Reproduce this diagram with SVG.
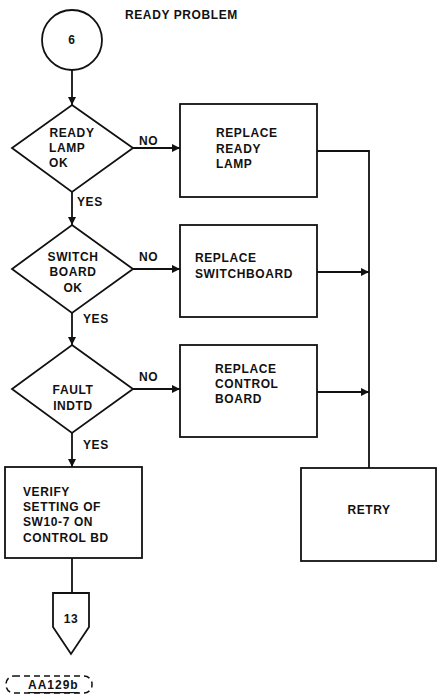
<svg xmlns="http://www.w3.org/2000/svg" width="437" height="698" viewBox="0 0 437 698">
<style>
.s{fill:#fff;stroke:#111;stroke-width:1.8}
.c{fill:none;stroke:#111;stroke-width:1.8}
text{font-family:"Liberation Sans",Arial,sans-serif;font-size:12px;font-weight:bold;fill:#111;letter-spacing:0.6px;dominant-baseline:central}
.m{text-anchor:middle}
</style>
<defs>
<marker id="ah" markerUnits="userSpaceOnUse" markerWidth="9" markerHeight="9" refX="8" refY="4.5" orient="auto">
<path d="M0,0.5 L8,4.5 L0,8.5 z" fill="#111"/>
</marker>
</defs>
<rect width="437" height="698" fill="#fff"/>
<text x="125" y="15">READY PROBLEM</text>
<g id="connectors">
<line class="c" x1="72" y1="70" x2="72" y2="105" marker-end="url(#ah)"/>
<line class="c" x1="133" y1="148" x2="180" y2="148" marker-end="url(#ah)"/>
<line class="c" x1="72" y1="192" x2="72" y2="225" marker-end="url(#ah)"/>
<line class="c" x1="133" y1="269" x2="180" y2="269" marker-end="url(#ah)"/>
<line class="c" x1="72" y1="313" x2="72" y2="345" marker-end="url(#ah)"/>
<line class="c" x1="133" y1="389" x2="180" y2="389" marker-end="url(#ah)"/>
<line class="c" x1="72" y1="433" x2="72" y2="467" marker-end="url(#ah)"/>
<line class="c" x1="72" y1="558" x2="72" y2="593"/>
<polyline class="c" points="317,151 369,151 369,468"/>
<line class="c" x1="317" y1="272" x2="369" y2="272" marker-end="url(#ah)"/>
<line class="c" x1="317" y1="392" x2="369" y2="392" marker-end="url(#ah)"/>
<text x="139" y="141">NO</text>
<text x="139" y="257">NO</text>
<text x="139" y="377">NO</text>
<text x="77" y="202">YES</text>
<text x="83" y="319">YES</text>
<text x="83" y="445">YES</text>
</g>
<g id="start">
<circle class="s" cx="72" cy="40" r="30"/>
<text class="m" x="72" y="40">6</text>
</g>
<g id="d1">
<polygon class="s" points="72,105 133,148 72,192 12,148"/>
<text class="m" x="72" y="133">READY</text>
<text x="49" y="148">LAMP</text>
<text x="49" y="163">OK</text>
</g>
<g id="d2">
<polygon class="s" points="72,225 133,269 72,313 12,269"/>
<text class="m" x="73" y="257">SWITCH</text>
<text class="m" x="73" y="272">BOARD</text>
<text class="m" x="73" y="288">OK</text>
</g>
<g id="d3">
<polygon class="s" points="72,345 133,389 72,433 12,389"/>
<text class="m" x="73" y="390">FAULT</text>
<text class="m" x="73" y="406">INDTD</text>
</g>
<g id="verify">
<rect class="s" x="5" y="467" width="137" height="91"/>
<text x="23" y="492">VERIFY</text>
<text x="23" y="507">SETTING OF</text>
<text x="23" y="522">SW10-7 ON</text>
<text x="23" y="538">CONTROL BD</text>
</g>
<g id="offpage">
<polygon class="s" points="53,593 89,593 89,627 71,654 53,627"/>
<text class="m" x="71" y="619">13</text>
</g>
<g id="ref">
<rect x="6" y="676" width="86" height="17" rx="8" fill="none" stroke="#111" stroke-width="1.5" stroke-dasharray="6,4"/>
<text x="28" y="685" style="text-decoration:underline;letter-spacing:1px">AA129b</text>
</g>
<g id="r1">
<rect class="s" x="180" y="104" width="137" height="93"/>
<text x="216" y="133">REPLACE</text>
<text x="216" y="149">READY</text>
<text x="216" y="164">LAMP</text>
</g>
<g id="r2">
<rect class="s" x="180" y="225" width="137" height="92"/>
<text x="195" y="258">REPLACE</text>
<text x="195" y="274">SWITCHBOARD</text>
</g>
<g id="r3">
<rect class="s" x="180" y="345" width="137" height="92"/>
<text x="215" y="369">REPLACE</text>
<text x="215" y="384">CONTROL</text>
<text x="215" y="399">BOARD</text>
</g>
<g id="retry">
<rect class="s" x="301" y="468" width="135" height="93"/>
<text class="m" x="369" y="510">RETRY</text>
</g>
</svg>
